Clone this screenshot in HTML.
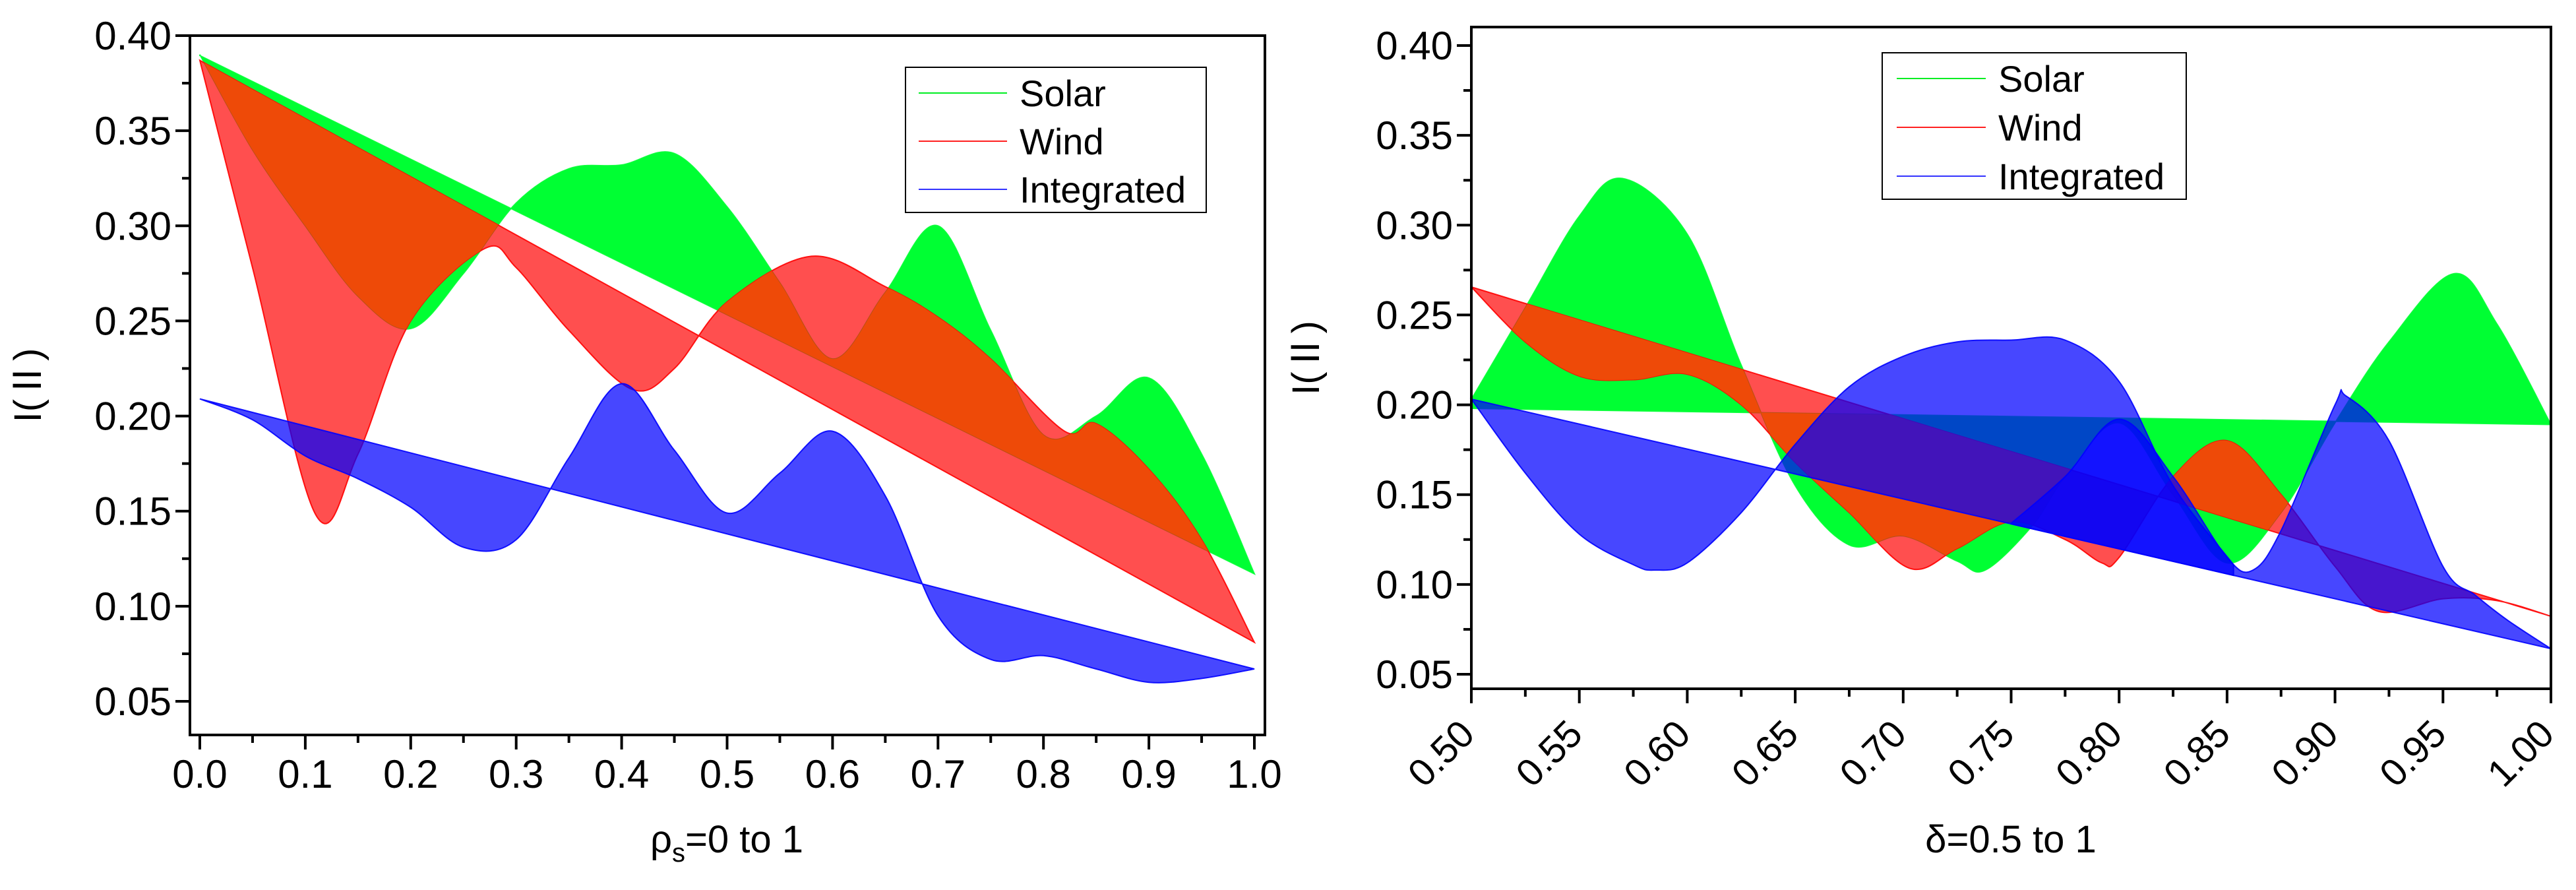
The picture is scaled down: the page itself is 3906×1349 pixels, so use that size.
<!DOCTYPE html>
<html><head><meta charset="utf-8"><style>
html,body{margin:0;padding:0;background:#fff}
svg{display:block}
text{font-family:"Liberation Sans","Noto Sans CJK SC",sans-serif;fill:#000}
</style></head><body>
<svg id="s" width="3906" height="1349" viewBox="0 0 3906 1349" xmlns="http://www.w3.org/2000/svg">
<defs id="defs"></defs>
<g id="left"></g>
<g id="right"></g>
</svg>
<script>
// ---------- Left chart data (x = rho_s) ----------
const leftX = [0,0.05,0.1,0.15,0.2,0.25,0.3,0.35,0.4,0.45,0.5,0.55,0.6,0.65,0.7,0.75,0.8,0.85,0.9,0.95,1.0];
const leftSolarCurve = [0.39,0.34,0.30,0.263,0.246,0.275,0.312,0.33,0.332,0.338,0.31,0.27,0.23,0.265,0.30,0.245,0.19,0.20,0.22,0.18,0.117];
const leftSolarLine = [0.3895,0.117];
const leftWindX = [0,0.05,0.11,0.15,0.2,0.27,0.3,0.35,0.41,0.45,0.5,0.58,0.65,0.7,0.75,0.82,0.85,0.9,0.95,1.0];
const leftWindCurve = [0.387,0.278,0.148,0.18,0.25,0.288,0.278,0.245,0.214,0.225,0.26,0.284,0.268,0.252,0.23,0.192,0.196,0.172,0.135,0.081];
const leftWindLine = [0.387,0.081];
const leftIntCurve = [0.209,0.198,0.179,0.167,0.152,0.131,0.135,0.178,0.217,0.182,0.149,0.17,0.192,0.158,0.095,0.072,0.074,0.067,0.06,0.062,0.067];
const leftIntLine = [0.209,0.067];
const leftXTicks = ["0.0","0.1","0.2","0.3","0.4","0.5","0.6","0.7","0.8","0.9","1.0"];
const leftYTicks = ["0.05","0.10","0.15","0.20","0.25","0.30","0.35","0.40"];

// ---------- Right chart data (x = delta) ----------
const rightSolarX = [0.5,0.525,0.55,0.57,0.6,0.625,0.65,0.675,0.7,0.725,0.738,0.76,0.775,0.8,0.825,0.85,0.875,0.9,0.925,0.955,0.975,1.0];
const rightSolarCurve = [0.203,0.254,0.305,0.326,0.295,0.222,0.155,0.122,0.127,0.113,0.108,0.133,0.16,0.19,0.15,0.112,0.14,0.19,0.235,0.273,0.245,0.189];
const rightSolarLine = [0.198,0.189];
const rightWindX = [0.5,0.525,0.55,0.575,0.6,0.625,0.65,0.675,0.703,0.725,0.75,0.775,0.792,0.8,0.825,0.85,0.875,0.9,0.92,0.95,0.975,1.0];
const rightWindCurve = [0.2656,0.235,0.216,0.214,0.217,0.2,0.168,0.14,0.109,0.12,0.135,0.125,0.112,0.115,0.16,0.18,0.15,0.11,0.085,0.092,0.091,0.0823];
const rightWindLine = [0.2656,0.0823];
const rightIntAX = [0.5,0.525,0.55,0.575,0.585,0.6,0.625,0.65,0.675,0.7,0.725,0.75,0.775,0.8,0.825,0.853];
const rightIntACurve = [0.2032,0.162,0.128,0.111,0.108,0.112,0.14,0.178,0.21,0.227,0.235,0.236,0.236,0.213,0.155,0.111];
const rightIntBX = [0.75,0.775,0.8,0.825,0.85,0.862,0.875,0.9,0.905,0.925,0.95,0.965,0.98,1.0];
const rightIntBCurve = [0.134,0.16,0.192,0.16,0.115,0.108,0.13,0.2,0.205,0.18,0.11,0.094,0.08,0.0642];
const rightIntLine = [0.2032,0.0642];
const rightXTicks = ["0.50","0.55","0.60","0.65","0.70","0.75","0.80","0.85","0.90","0.95","1.00"];
const rightYTicks = ["0.05","0.10","0.15","0.20","0.25","0.30","0.35","0.40"];

const NS="http://www.w3.org/2000/svg";
function mk(parent,tag,attrs){const e=document.createElementNS(NS,tag);for(const k in attrs)e.setAttribute(k,attrs[k]);parent.appendChild(e);return e;}
const defs=document.getElementById("defs");

function smoothPath(pts){
  let d="M"+pts[0][0].toFixed(1)+","+pts[0][1].toFixed(1);
  for(let i=0;i<pts.length-1;i++){
    const p0=pts[Math.max(0,i-1)],p1=pts[i],p2=pts[i+1],p3=pts[Math.min(pts.length-1,i+2)];
    const c1=[p1[0]+(p2[0]-p0[0])/6,p1[1]+(p2[1]-p0[1])/6];
    const c2=[p2[0]-(p3[0]-p1[0])/6,p2[1]-(p3[1]-p1[1])/6];
    d+=" C"+c1[0].toFixed(1)+","+c1[1].toFixed(1)+" "+c2[0].toFixed(1)+","+c2[1].toFixed(1)+" "+p2[0].toFixed(1)+","+p2[1].toFixed(1);
  }
  return d;
}

function chart(g,cfg,id){
  const {L,R,T,B,x0,x1,xPx0,xPx1,yPx40,yPx05}=cfg;
  const sx=v=>xPx0+(v-x0)/(x1-x0)*(xPx1-xPx0);
  const sy=v=>yPx40+(0.40-v)/0.35*(yPx05-yPx40);
  const ds=[];
  cfg.bands.forEach((b,k)=>{
    const pts=b.xs.map((x,i)=>[sx(x),sy(b.ys[i])]);
    const xa=b.xs[0],xb=b.xs[b.xs.length-1];
    const lv=x=>b.line[0]+(b.line[1]-b.line[0])*(x-cfg.lx0)/(cfg.lx1-cfg.lx0);
    const d=smoothPath(pts)+" L"+sx(xb).toFixed(1)+","+sy(lv(xb)).toFixed(1)+" L"+sx(xa).toFixed(1)+","+sy(lv(xa)).toFixed(1)+" Z";
    ds.push(d);
    const p=mk(g,"path",{d:d,fill:b.color,"fill-opacity":b.op,stroke:b.color,"stroke-width":2,"stroke-opacity":0.9});
    
    
    if(k===1){
      // overlap of solar and wind drawn in orange
      const cp=mk(defs,"clipPath",{id:"clipw"+id});
      mk(cp,"path",{d:d});
      const o=mk(g,"path",{d:ds[0],fill:"#ee4a08","clip-path":"url(#clipw"+id+")"});
      
      
    }
  });
  const fr=mk(g,"rect",{x:L,y:T,width:R-L,height:B-T,fill:"none",stroke:"#000","stroke-width":4});
  
  
  for(let i=0;i<cfg.yTicks.length;i++){
    const v=0.05+i*0.05, y=sy(v);
    mk(g,"line",{x1:L-22,x2:L,y1:y,y2:y,stroke:"#000","stroke-width":4});
    const t=mk(g,"text",{x:L-28,y:y+21,"text-anchor":"end","font-size":60});
    t.textContent=cfg.yTicks[i];
    
    
  }
  for(let v=0.075;v<0.40;v+=0.05){const y=sy(v);if(y>T&&y<B)mk(g,"line",{x1:L-12,x2:L,y1:y,y2:y,stroke:"#000","stroke-width":4});}
  const n=cfg.xTicks.length, step=(x1-x0)/(n-1);
  for(let i=0;i<n;i++){
    const v=x0+i*step, x=sx(v);
    mk(g,"line",{x1:x,x2:x,y1:B,y2:B+22,stroke:"#000","stroke-width":4});
    if(i<n-1){const xm=sx(v+step/2);mk(g,"line",{x1:xm,x2:xm,y1:B,y2:B+12,stroke:"#000","stroke-width":4});}
    let t;
    if(cfg.rot){
      t=mk(g,"text",{x:x+8,y:B+72,"text-anchor":"end","font-size":58,transform:"rotate(-45 "+(x+8)+" "+(B+72)+")"});
    }else{
      t=mk(g,"text",{x:x,y:B+80,"text-anchor":"middle","font-size":60});
    }
    t.textContent=cfg.xTicks[i];
    
    
  }
  const yt=mk(g,"text",{x:cfg.ytX,y:(T+B)/2,"text-anchor":"middle","font-size":58,transform:"rotate(-90 "+cfg.ytX+" "+((T+B)/2)+")"});
  yt.textContent="I(Ⅱ)";
  
  
  const xt=mk(g,"text",{x:cfg.xtX,y:1292,"text-anchor":"middle","font-size":58});
  xt.innerHTML=cfg.xTitle;
  
  
  const lg=cfg.lg;
  const lr=mk(g,"rect",{x:lg.x,y:lg.y,width:lg.w,height:lg.h,fill:"#fff",stroke:"#000","stroke-width":2});
  
  
  const names=["Solar","Wind","Integrated"],cols=["#00ee22","#ff2020","#3333ff"];
  for(let i=0;i<3;i++){
    const y=lg.ey0+i*lg.dy;
    mk(g,"line",{x1:lg.lx0,x2:lg.lx1,y1:y,y2:y,stroke:cols[i],"stroke-width":2});
    const t=mk(g,"text",{x:lg.tx,y:y+20,"font-size":56});
    t.textContent=names[i];
    
    
  }
}

chart(document.getElementById("left"),{
  L:288,R:1918,T:54,B:1114,x0:0,x1:1,xPx0:303,xPx1:1902,yPx40:54,yPx05:1063,lx0:0,lx1:1,
  bands:[
    {name:"solar-band",xs:leftX,ys:leftSolarCurve,line:leftSolarLine,color:"#00ff33",op:1},
    {name:"wind-band",xs:leftWindX,ys:leftWindCurve,line:leftWindLine,color:"#ff0000",op:0.69},
    {name:"integrated-band",xs:leftX,ys:leftIntCurve,line:leftIntLine,color:"#0000ff",op:0.72}
  ],
  xTicks:leftXTicks,yTicks:leftYTicks,rot:false,ytX:62,xtX:1102,
  xTitle:'ρ<tspan font-size="40" dy="14">s</tspan><tspan dy="-14">=0 to 1</tspan>',
  lg:{x:1373,y:102,w:456,h:220,ey0:141,dy:73,lx0:1393,lx1:1527,tx:1546}
},"L");
chart(document.getElementById("right"),{
  L:2231,R:3868,T:41,B:1044,x0:0.5,x1:1,xPx0:2231,xPx1:3868,yPx40:69,yPx05:1022,lx0:0.5,lx1:1,
  bands:[
    {name:"solar-band",xs:rightSolarX,ys:rightSolarCurve,line:rightSolarLine,color:"#00ff33",op:1},
    {name:"wind-band",xs:rightWindX,ys:rightWindCurve,line:rightWindLine,color:"#ff0000",op:0.69},
    {name:"integrated-band-a",xs:rightIntAX,ys:rightIntACurve,line:rightIntLine,color:"#0000ff",op:0.72},
    {name:"integrated-band-b",xs:rightIntBX,ys:rightIntBCurve,line:rightIntLine,color:"#0000ff",op:0.72}
  ],
  xTicks:rightXTicks,yTicks:rightYTicks,rot:true,ytX:2000,xtX:3049,
  xTitle:'δ=0.5 to 1',
  lg:{x:2854,y:80,w:461,h:222,ey0:119,dy:74,lx0:2876,lx1:3011,tx:3030}
},"R");
</script>
</body></html>
